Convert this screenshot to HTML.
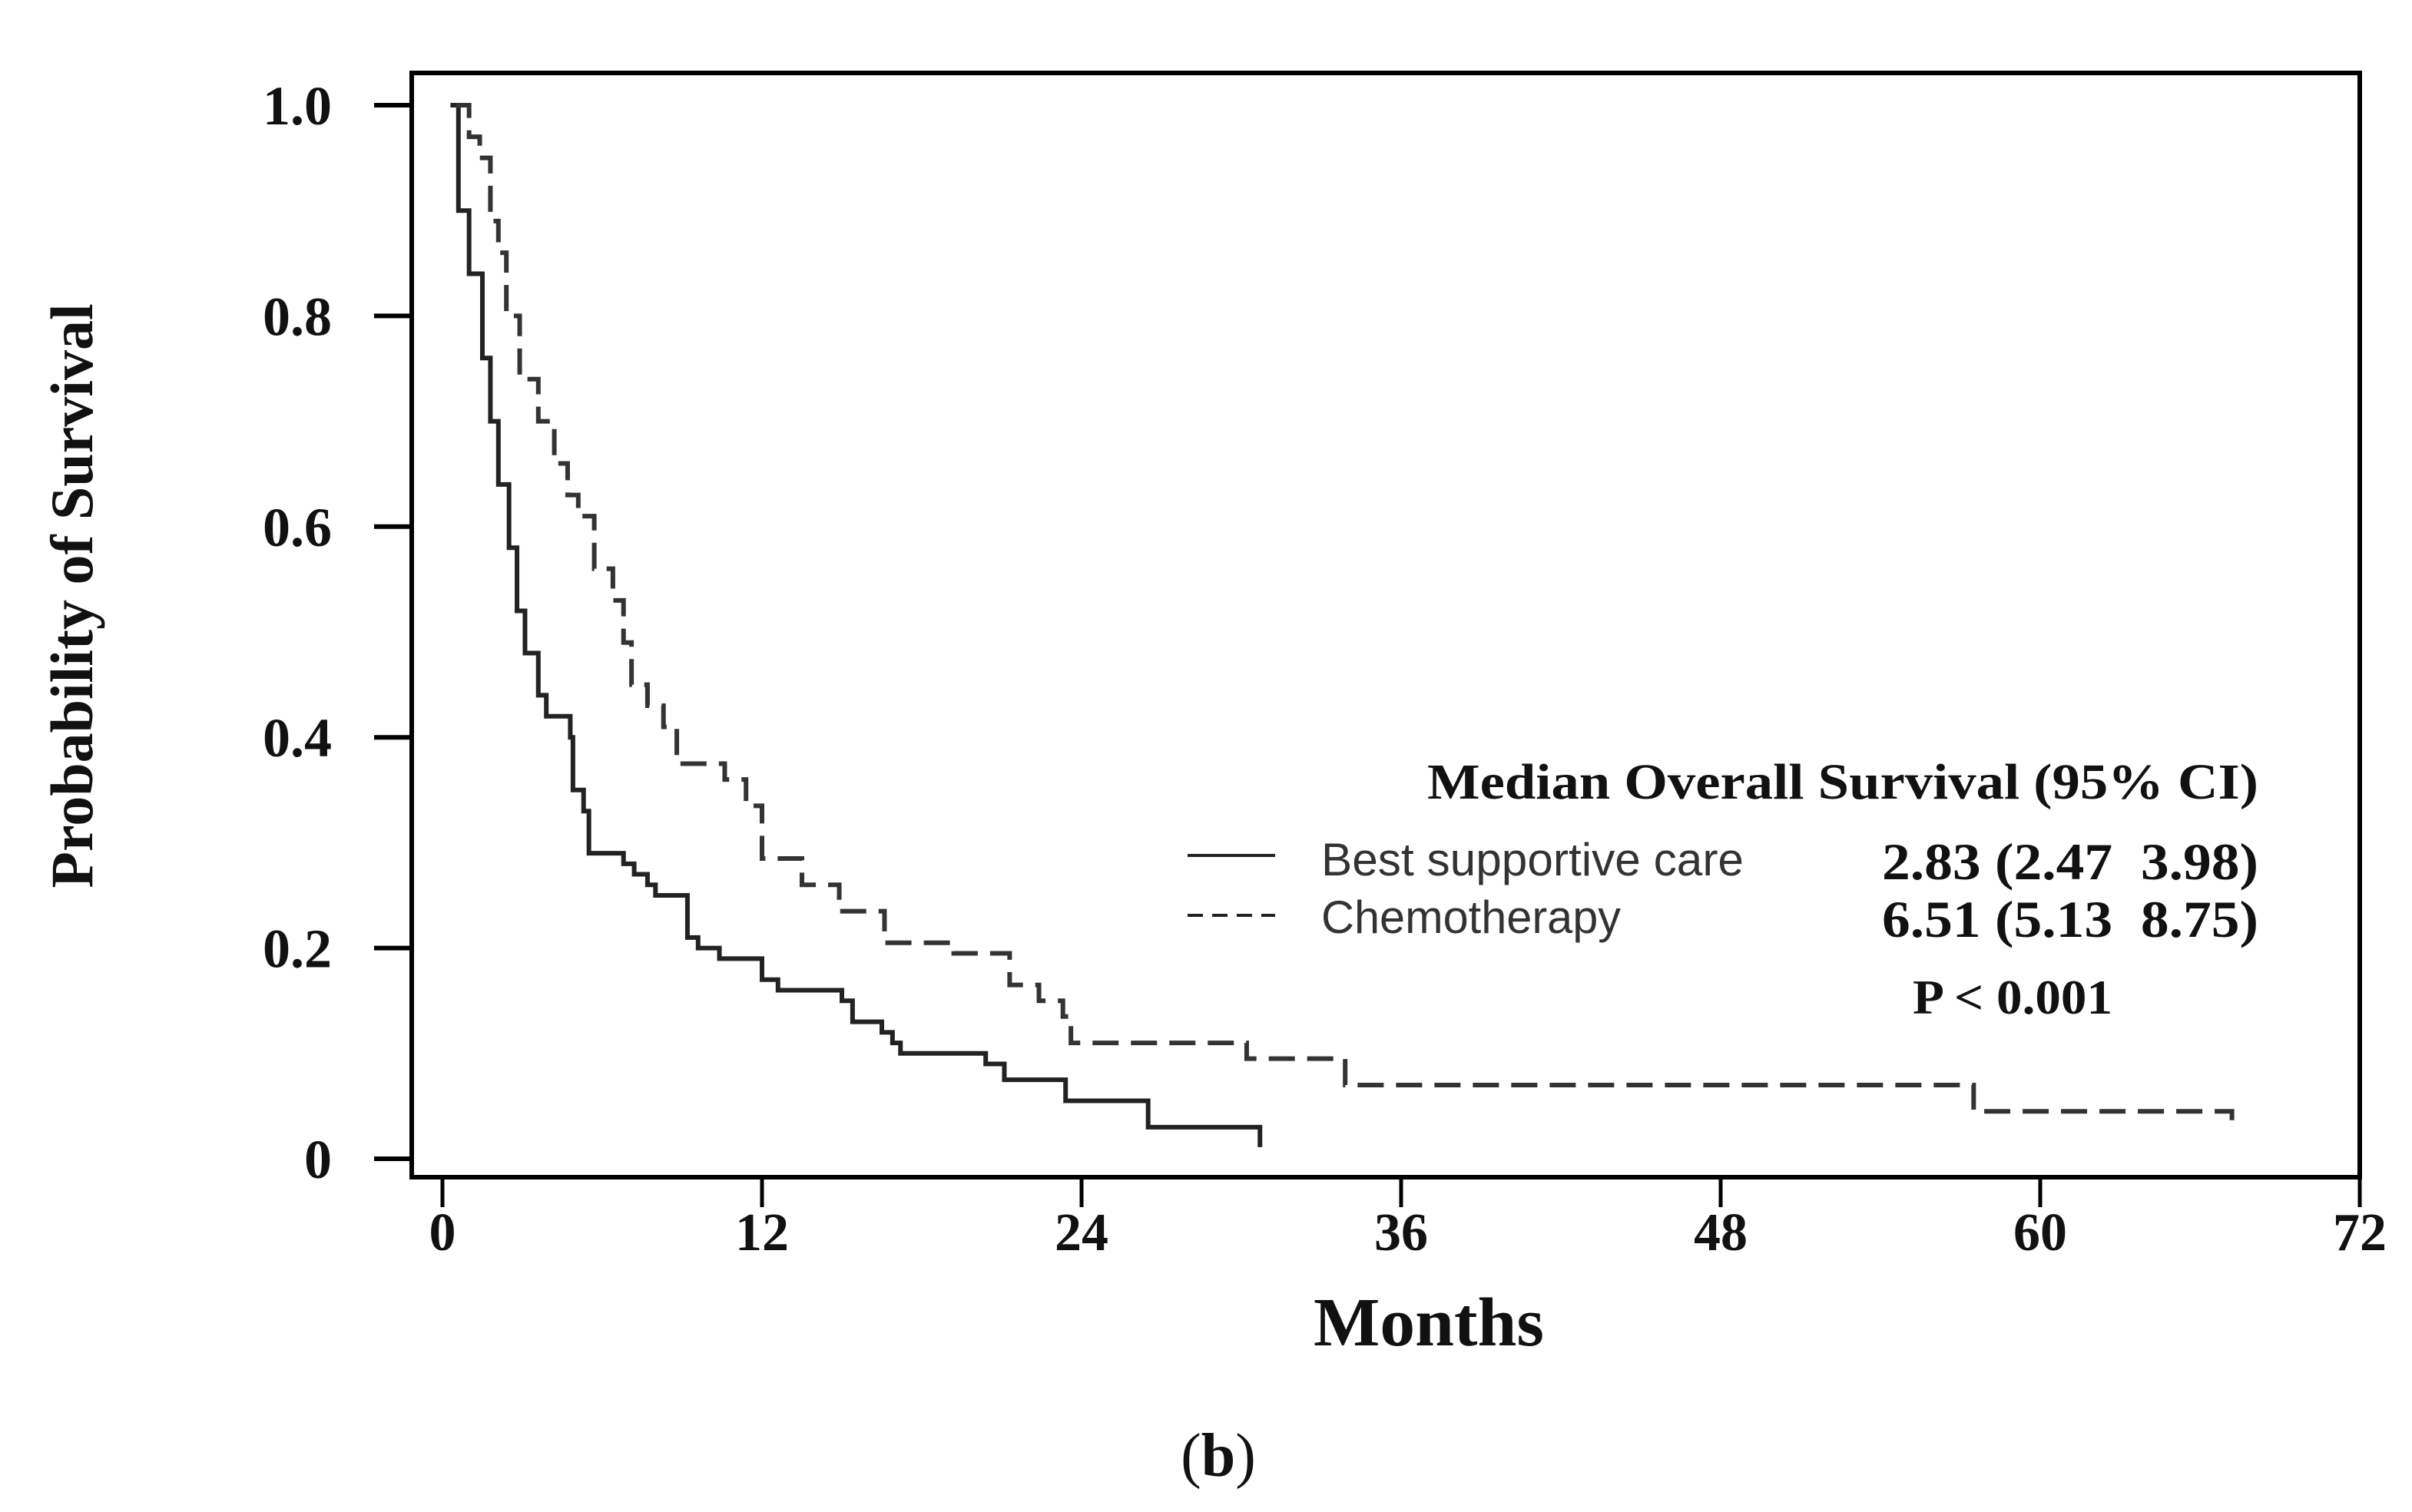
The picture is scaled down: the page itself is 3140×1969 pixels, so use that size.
<!DOCTYPE html>
<html><head><meta charset="utf-8"><style>
html,body{margin:0;padding:0;background:#fff;}
svg{display:block;}
.serif{font-family:"Liberation Serif","Times New Roman",serif;font-weight:bold;fill:#111;}
.sans{font-family:"Liberation Sans",Arial,sans-serif;fill:#333;}
</style></head><body>
<svg id="chart" width="3140" height="1969" viewBox="0 0 3140 1969" xmlns="http://www.w3.org/2000/svg">
<rect x="0" y="0" width="3140" height="1969" fill="#fff"/>
<rect x="536" y="95" width="2536" height="1438" fill="none" stroke="#000" stroke-width="6"/>
<g id="yticks"></g>
<g id="xticks"></g>
<g id="series"></g>
<text class="serif" x="102" y="776" font-size="78" text-anchor="middle" transform="rotate(-90 102 776)" dominant-baseline="middle">Probability of Survival</text>
<text class="serif" x="1860" y="1752" font-size="90" text-anchor="middle" textLength="300" lengthAdjust="spacingAndGlyphs">Months</text>
<text class="serif" x="1586" y="1922" font-size="80" text-anchor="middle"><tspan font-weight="normal">(</tspan>b<tspan font-weight="normal">)</tspan></text>
<g>
<text class="serif" x="1858" y="1040" font-size="66" textLength="1082" lengthAdjust="spacingAndGlyphs">Median Overall Survival (95% CI)</text>
<line x1="1546" y1="1114" x2="1660" y2="1114" stroke="#222" stroke-width="4"/>
<text class="sans" x="1720" y="1140" font-size="60" textLength="550" lengthAdjust="spacingAndGlyphs">Best supportive care</text>
<line x1="1546" y1="1192" x2="1660" y2="1192" stroke="#222" stroke-width="4" stroke-dasharray="20 12"/>
<text class="sans" x="1720" y="1215" font-size="60" textLength="390" lengthAdjust="spacingAndGlyphs">Chemotherapy</text>
<text class="serif" x="2450" y="1145" font-size="68" textLength="490" lengthAdjust="spacingAndGlyphs" xml:space="preserve">2.83 (2.47  3.98)</text>
<text class="serif" x="2450" y="1220" font-size="68" textLength="490" lengthAdjust="spacingAndGlyphs" xml:space="preserve">6.51 (5.13  8.75)</text>
<text class="serif" x="2490" y="1320" font-size="64" textLength="260" lengthAdjust="spacingAndGlyphs">P &lt; 0.001</text>
</g>
</svg>
<script>
const yTickValues = [0, 0.2, 0.4, 0.6, 0.8, 1.0];
const yTickLabels = ["0", "0.2", "0.4", "0.6", "0.8", "1.0"];
const xTickValues = [0, 12, 24, 36, 48, 60, 72];
const xTickLabels = ["0", "12", "24", "36", "48", "60", "72"];
const bscTimes = [0.3,0.6,1.0,1.5,1.8,2.1,2.5,2.8,3.1,3.6,3.9,4.8,4.9,5.3,5.5,6.5,6.8,7.2,7.7,8.0,9.2,9.6,10.4,11.6,12.0,12.6,14.6,15.0,15.4,16.3,16.5,16.9,17.2,20.2,20.4,21.1,23.3,23.4,26.3,26.5,30.7];
const bscSurv  = [1.0,0.90,0.84,0.76,0.70,0.64,0.58,0.52,0.48,0.44,0.42,0.40,0.35,0.33,0.29,0.29,0.28,0.27,0.26,0.25,0.21,0.20,0.19,0.19,0.17,0.16,0.16,0.15,0.13,0.13,0.12,0.11,0.10,0.10,0.09,0.075,0.075,0.055,0.055,0.03,0.03];
const chemoTimes = [0.5,1.0,1.4,1.8,2.1,2.4,2.9,3.6,4.2,4.7,5.1,5.7,6.4,6.8,7.1,7.7,8.3,8.8,10.0,10.6,11.4,12.0,13.5,14.9,16.6,19.2,21.3,22.4,23.3,23.6,30.2,33.9,57.5,67.2];
const chemoSurv  = [1.0,0.97,0.95,0.89,0.86,0.80,0.74,0.70,0.66,0.63,0.61,0.56,0.53,0.49,0.45,0.43,0.41,0.375,0.375,0.36,0.335,0.285,0.26,0.235,0.205,0.195,0.165,0.15,0.135,0.11,0.095,0.07,0.045,0.045];

const NS = "http://www.w3.org/2000/svg";
function xScale(m){ return 576 + m * (3072 - 576) / 72; }
function yScale(s){ return 1509 - s * 1372; }

const yg = document.getElementById('yticks');
yTickValues.forEach(function(v, i){
  const y = yScale(v);
  const t = document.createElementNS(NS, 'line');
  t.setAttribute('x1', 487); t.setAttribute('x2', 536);
  t.setAttribute('y1', y); t.setAttribute('y2', y);
  t.setAttribute('stroke', '#000'); t.setAttribute('stroke-width', 6);
  
  
  yg.appendChild(t);
  const l = document.createElementNS(NS, 'text');
  l.setAttribute('x', 432); l.setAttribute('y', y + 25);
  l.setAttribute('text-anchor', 'end'); l.setAttribute('font-size', 72);
  l.setAttribute('class', 'serif');
  l.textContent = yTickLabels[i];
  
  
  yg.appendChild(l);
});

const xg = document.getElementById('xticks');
xTickValues.forEach(function(v, i){
  const x = xScale(v);
  const t = document.createElementNS(NS, 'line');
  t.setAttribute('x1', x); t.setAttribute('x2', x);
  t.setAttribute('y1', 1533); t.setAttribute('y2', 1572);
  t.setAttribute('stroke', '#000'); t.setAttribute('stroke-width', 5);
  
  
  xg.appendChild(t);
  const l = document.createElementNS(NS, 'text');
  l.setAttribute('x', x); l.setAttribute('y', 1628);
  l.setAttribute('text-anchor', 'middle'); l.setAttribute('font-size', 70);
  l.setAttribute('class', 'serif');
  l.textContent = xTickLabels[i];
  
  
  xg.appendChild(l);
});

function stepPath(times, surv, endDrop){
  let d = 'M' + xScale(times[0]) + ' ' + yScale(surv[0]);
  for (let i = 1; i < times.length; i++){
    d += ' H' + xScale(times[i]) + ' V' + yScale(surv[i]);
  }
  d += ' V' + (yScale(surv[surv.length-1]) + endDrop);
  return d;
}
const sg = document.getElementById('series');
const p1 = document.createElementNS(NS, 'path');
p1.setAttribute('d', stepPath(bscTimes, bscSurv, 26));
p1.setAttribute('fill', 'none'); p1.setAttribute('stroke', '#222'); p1.setAttribute('stroke-width', 6);


sg.appendChild(p1);
const p2 = document.createElementNS(NS, 'path');
p2.setAttribute('d', stepPath(chemoTimes, chemoSurv, 16));
p2.setAttribute('fill', 'none'); p2.setAttribute('stroke', '#333'); p2.setAttribute('stroke-width', 6);
p2.setAttribute('stroke-dasharray', '34 16');


sg.appendChild(p2);
</script>
</body></html>
